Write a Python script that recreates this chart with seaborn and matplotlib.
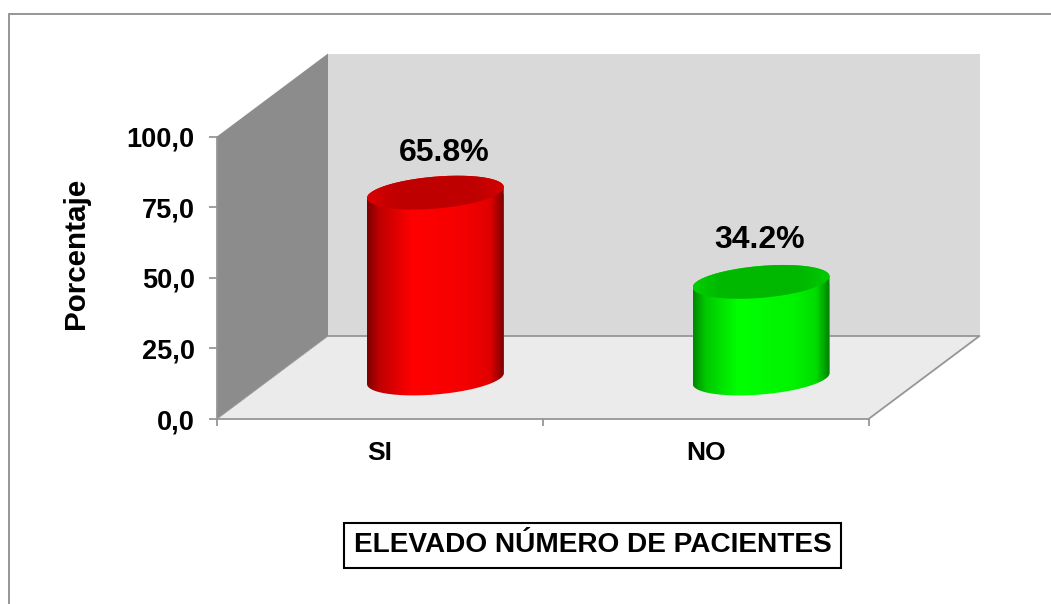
import numpy as np
import pandas as pd
import matplotlib
matplotlib.use("Agg")
import matplotlib.pyplot as plt
from matplotlib.colors import LinearSegmentedColormap
from matplotlib.patches import Polygon, Rectangle
from matplotlib.path import Path
import seaborn as sns

categories = ["SI", "NO"]
values = [65.8, 34.2]
value_labels = ["65.8%", "34.2%"]
y_ticks = [0, 25, 50, 75, 100]
y_tick_labels = ["0,0", "25,0", "50,0", "75,0", "100,0"]
x_title = "ELEVADO NÚMERO DE PACIENTES"
y_title = "Porcentaje"

W, H, DPI = 1051, 604, 100
GREY = "#969696"
base = ["#ff0000", "#00ff00"]
ramps = [["#7d0000", "#c00000", "#ff0000", "#f40000", "#e00000", "#7d0000"],
         ["#008800", "#00c800", "#00ff00", "#00f400", "#00dc00", "#008000"]]
top_ramps = [["#dc0000", "#c00000", "#c00000", "#d40000"],
             ["#00d000", "#00b800", "#00b800", "#00cc00"]]

sns.set_theme(style="white")
plt.rcParams["font.family"] = ["Liberation Sans", "DejaVu Sans"]
plt.rcParams["font.weight"] = "bold"

fig = plt.figure(figsize=(W / DPI, H / DPI), dpi=DPI, facecolor="white")
fig.add_artist(Rectangle((9 / W, -0.1), 1.2, 1.1 - 14 / H, transform=fig.transFigure,
                         fill=False, edgecolor="#8e8e8e", linewidth=1.3))
left, right, top, bottom = 217, 868.5, 136.5, 419
ax = fig.add_axes([left / W, 1 - bottom / H, (right - left) / W, (bottom - top) / H])
ax.patch.set_visible(False)

df = pd.DataFrame({"cat": categories, "val": values})
sns.barplot(data=df, x="cat", y="val", hue="cat", palette=base, width=0.42,
            legend=False, ax=ax, saturation=1, zorder=3)
ax.set_xlim(-0.5, 1.5)
ax.set_ylim(0, 100)

px_x = 2 / (right - left)      # data units per pixel
px_y = 100 / (bottom - top)
wall_dx, wall_dy = 111 * px_x, 83 * px_y
x0, x1 = -0.5, 1.5

ax.add_patch(Polygon([(x0 + wall_dx, wall_dy), (x1 + wall_dx, wall_dy), (x1 + wall_dx, 100 + wall_dy),
                      (x0 + wall_dx, 100 + wall_dy)], closed=True, fc="#d9d9d9", ec="none", clip_on=False, zorder=0))
ax.add_patch(Polygon([(x0, 0), (x0 + wall_dx, wall_dy), (x0 + wall_dx, 100 + wall_dy), (x0, 100)],
                     closed=True, fc="#8c8c8c", ec="none", clip_on=False, zorder=0.5))
ax.add_patch(Polygon([(x0, 0), (x1, 0), (x1 + wall_dx, wall_dy), (x0 + wall_dx, wall_dy)],
                     closed=True, fc="#ebebeb", ec="none", clip_on=False, zorder=0.6))
line_kw = dict(color=GREY, lw=1.3, clip_on=False, zorder=1, solid_capstyle="round")
ax.plot([x0 + wall_dx, x1 + wall_dx, x1], [wall_dy, wall_dy, 0], **line_kw)
ax.plot([x0, x0 + wall_dx], [0, wall_dy], color=GREY, lw=0.6, clip_on=False, zorder=1)

# Cylinders built on the seaborn bars: shifted into the depth of the chart
shift_x, shift_y = 55.5 * px_x, 40.5 * px_y
tilt, minor = 5.5 * px_y, 16 * px_y
t = np.linspace(0, np.pi, 80)
for bar, ramp, top_ramp in zip(ax.patches, ramps, top_ramps):
    bar.set_x(bar.get_x() + shift_x)
    bar.set_y(bar.get_y() + shift_y)
    xa, w, y0, h = bar.get_x(), bar.get_width(), bar.get_y(), bar.get_height()
    cx, a = xa + w / 2, w / 2
    low = np.column_stack([cx - a * np.cos(t), y0 - tilt * np.cos(t) - minor * np.sin(t)])
    up = np.column_stack([cx + a * np.cos(t), y0 + h + tilt * np.cos(t) + minor * np.sin(t)])
    body = Path(np.vstack([low, up, low[:1]]))
    rim = Path(np.vstack([up, np.column_stack([cx - a * np.cos(t), y0 + h - tilt * np.cos(t) - minor * np.sin(t)])]))
    bar.set_clip_path(body, ax.transData)
    extent = (xa, xa + w, y0 - minor - tilt, y0 + h + minor + tilt)
    stops = [0, 0.09, 0.33, 0.72, 0.9, 1]
    cmap = LinearSegmentedColormap.from_list("c", list(zip(stops, ramp)))
    im = ax.imshow(np.linspace(0, 1, 256)[None, :], extent=extent, cmap=cmap, aspect="auto",
                   zorder=4, interpolation="bilinear")
    im.set_clip_path(body, ax.transData)
    cmap2 = LinearSegmentedColormap.from_list("t", list(zip([0, 0.2, 0.8, 1], top_ramp)))
    im2 = ax.imshow(np.linspace(0, 1, 256)[None, :], extent=extent, cmap=cmap2, aspect="auto",
                    zorder=5, interpolation="bilinear")
    im2.set_clip_path(rim, ax.transData)

ax.set_xlim(-0.5, 1.5)
ax.set_ylim(0, 100)

# Value labels above each cylinder top
label_nudge = [(9, 24), (-2, 26)]
for bar, text, nudge in zip(ax.patches, value_labels, label_nudge):
    ax.annotate(text, (bar.get_x() + bar.get_width() / 2, bar.get_y() + bar.get_height() + minor),
                xytext=(nudge[0] * 0.72, nudge[1] * 0.72), textcoords="offset points",
                ha="center", va="center", fontsize=23, fontweight="bold", color="black",
                annotation_clip=False, zorder=6)

for s in ["top", "right"]:
    ax.spines[s].set_visible(False)
for s in ["left", "bottom"]:
    ax.spines[s].set_color(GREY)
    ax.spines[s].set_linewidth(1.3)
    ax.spines[s].set_zorder(2)

ax.set_yticks(y_ticks)
ax.set_yticklabels(y_tick_labels, fontsize=19.5, fontweight="bold", color="black")
ax.tick_params(axis="y", which="major", left=True, length=6, width=1.3, color=GREY, pad=10)

ax.set_xticks([-0.5, 0.5, 1.5])
ax.set_xticklabels(["", "", ""])
ax.set_xticks([0, 1], minor=True)
ax.set_xticklabels(categories, minor=True, fontsize=19, fontweight="bold", color="black")
ax.tick_params(axis="x", which="major", bottom=True, length=5, width=1.3, color=GREY)
ax.tick_params(axis="x", which="minor", bottom=False, length=0, pad=15.5)

ax.set_ylabel(y_title, fontsize=21.3, fontweight="bold", color="black")
ax.yaxis.set_label_coords((90 - left) / (right - left), (bottom - 253) / (bottom - top))
ax.set_xlabel(x_title, fontsize=20.2, fontweight="bold", color="black", va="center", ha="center",
              bbox=dict(boxstyle="square,pad=0.34", fc="white", ec="black", lw=1.5))
ax.xaxis.set_label_coords((592.5 - left) / (right - left), (bottom - 545.5) / (bottom - top))

fig.savefig("out.png", dpi=DPI, facecolor="white")
